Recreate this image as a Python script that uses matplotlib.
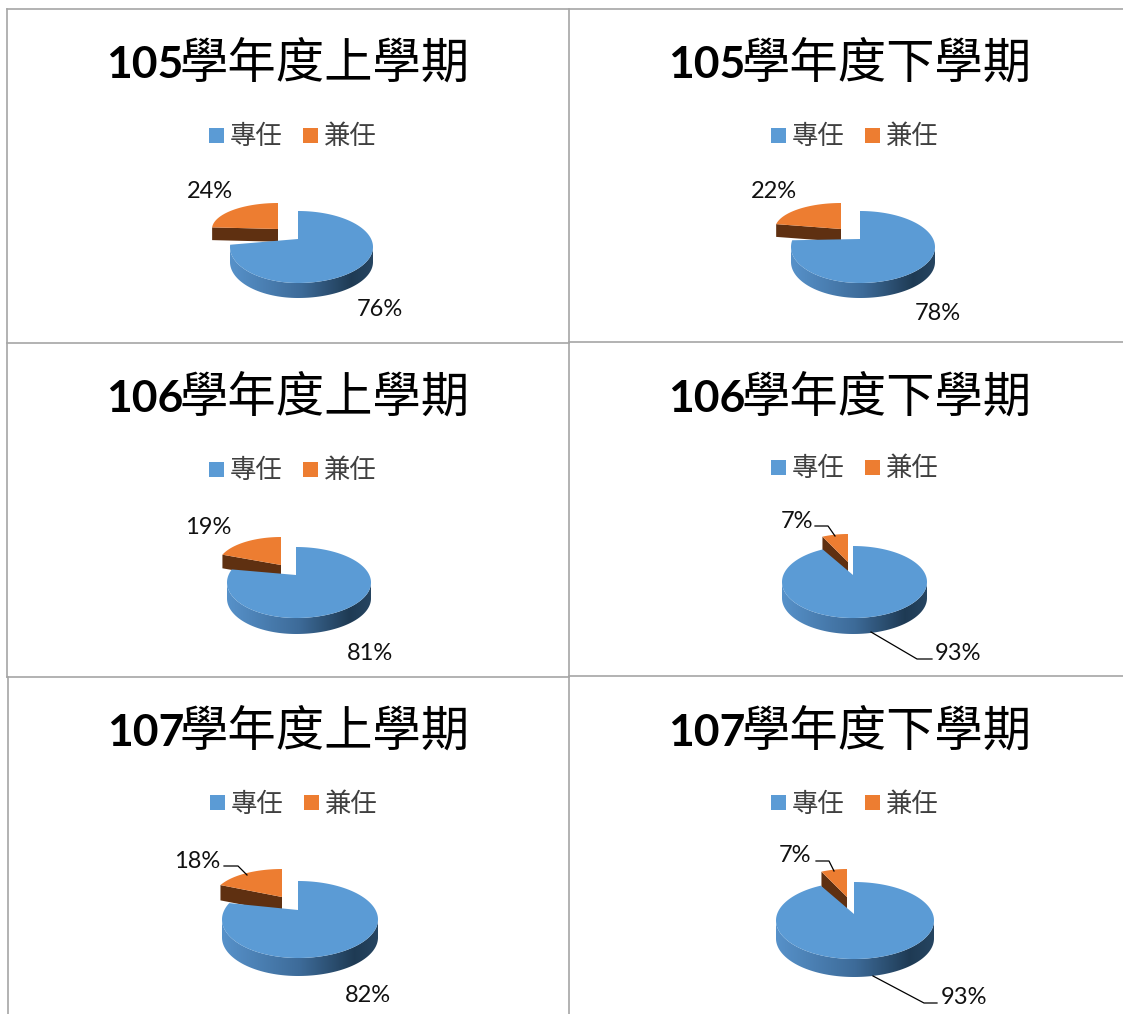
import numpy as np
import matplotlib
matplotlib.use("Agg")
import matplotlib.pyplot as plt
from matplotlib.patches import Rectangle, Polygon

# data
terms = ["105學年度上學期", "105學年度下學期", "106學年度上學期",
         "106學年度下學期", "107學年度上學期", "107學年度下學期"]
series_names = ["專任", "兼任"]
fulltime = [76, 78, 81, 93, 82, 93]
adjunct = [24, 22, 19, 7, 18, 7]

# layout in pixels
title_x = [106, 668, 106, 668, 107, 668]
title_y = [78, 78, 412, 412, 746, 746]
legend_x = [209, 771, 209, 771, 210, 771]
legend_y = [135, 135, 469, 467, 802, 802]
# apex x, apex y, left, right, top, surface bottom, wall bottom
pie_geom = [
    (298, 239, 230, 373, 211, 283, 298),
    (860, 239, 791, 935, 211, 283, 298),
    (296, 575, 227, 371, 547, 618, 634),
    (853, 575, 782, 927, 546, 618, 634),
    (298, 910, 222, 378, 881, 958, 976),
    (854, 914, 776, 934, 882, 959, 977),
]
# apex x, apex y, x radius, top
slice_geom = [
    (278, 229, 66, 203),
    (841, 229, 66, 203),
    (281, 565, 63, 537),
    (848, 562, 60, 534),
    (282, 897, 68, 869),
    (847, 897, 60, 869),
]
blue_label = [(380, 310), (938, 313), (370, 653), (958, 654), (368, 996), (964, 998)]
orange_label = [(210, 192), (774, 192), (208, 527), (797, 522), (197, 862), (795, 856)]
leaders = [
    ([815, 828, 835], [526, 526, 536]),
    ([871, 917, 932], [632, 659, 659]),
    ([224, 238, 247], [866, 866, 875]),
    ([816, 829, 834], [861, 861, 871]),
    ([873, 924, 937], [976, 1003, 1003]),
]

BLUE = "#5b9bd5"
ORANGE = "#ed7d31"
BROWN = "#5f3011"
GRID = "#a6a6a6"
CJK = ["Noto Sans CJK TC", "DejaVu Sans"]

plt.rcParams["font.family"] = ["Lato", "Noto Sans CJK TC", "DejaVu Sans"]

fig = plt.figure(figsize=(11.23, 10.14), dpi=100)
ax = fig.add_axes([0, 0, 1, 1])
ax.axis("off")


def arc(geom, t):
    apx, apy, left, right, top, bottom, wall = geom
    cy = (top + bottom) / 2
    ry = (bottom - top) / 2
    c = np.cos(t)
    x = apx + np.where(c > 0, right - apx, apx - left) * c
    y = cy - ry * np.sin(t)
    return x, y


# left to right shading of the pie's front wall
stops = np.array([[0.34, 0.57, 0.79], [0.24, 0.42, 0.60], [0.12, 0.23, 0.33], [0.15, 0.27, 0.38]])
pos = [0, 0.5, 0.85, 1]
frac = np.linspace(0, 1, 200)
shade = np.stack([np.interp(frac, pos, stops[:, k]) for k in range(3)], axis=1)[np.newaxis, :, :]

for i, term in enumerate(terms):
    geom = pie_geom[i]
    apx, apy, left, right, top, bottom, wall = geom
    depth = wall - bottom
    total = fulltime[i] + adjunct[i]
    edge = np.pi / 2 - 2 * np.pi * fulltime[i] / total

    # orange slice, pulled away from the blue one
    ox0, oy0, orx, otop = slice_geom[i]
    t = np.linspace(edge, -1.5 * np.pi, 80)
    ox = ox0 + orx * np.cos(t)
    oy = oy0 - (oy0 - otop) * np.sin(t)
    d2 = depth * 0.85
    ax.fill([ox0, ox[0], ox[0], ox0], [oy0, oy[0], oy[0] + d2, oy0 + d2], color=BROWN, lw=0, zorder=2)
    ax.fill(np.r_[ox0, ox], np.r_[oy0, oy], color=ORANGE, lw=0, zorder=3)

    # blue front wall
    t = np.linspace(np.pi, 2 * np.pi, 120)
    wx, wy = arc(geom, t)
    outline = np.c_[np.r_[wx, wx[::-1]], np.r_[wy, wy[::-1] + depth]]
    im = ax.imshow(shade, extent=(left, right, wall, top), aspect="auto", zorder=4, interpolation="bilinear")
    im.set_clip_path(Polygon(outline, closed=True, transform=ax.transData))

    # blue top
    t = np.linspace(np.pi / 2, edge, 200)
    bx, by = arc(geom, t)
    ax.fill(np.r_[apx, bx], np.r_[apy, by], color=BLUE, lw=0, zorder=5)

    # title
    ax.text(title_x[i], title_y[i], term[:3], fontsize=32, fontweight="bold", va="baseline", ha="left", color="black")
    ax.text(title_x[i] + 73, title_y[i], term[3:], fontsize=34.8, family=CJK, va="baseline", ha="left", color="black")

    # legend
    lx, ly = legend_x[i], legend_y[i]
    for k, (name, colour) in enumerate(zip(series_names, [BLUE, ORANGE])):
        ax.add_patch(Rectangle((lx + 94 * k, ly - 7.5), 15, 15, color=colour, lw=0, zorder=3))
        ax.text(lx + 94 * k + 21, ly + 2, name, fontsize=19, family=CJK, color="#404040", va="center", ha="left")

    # percent labels
    ax.text(*blue_label[i], f"{fulltime[i]}%", fontsize=17, color="#111111", va="center", ha="center", zorder=7)
    ax.text(*orange_label[i], f"{adjunct[i]}%", fontsize=17, color="#111111", va="center", ha="center", zorder=7)

for xs, ys in leaders:
    ax.plot(xs, ys, color="black", lw=0.9, zorder=6)

# table lines
ax.plot([7, 1123], [9, 9], color=GRID, lw=1.2)
ax.plot([7, 569], [343, 343], color=GRID, lw=1.2)
ax.plot([569, 1123], [342, 342], color=GRID, lw=1.2)
ax.plot([7, 569], [677, 677], color=GRID, lw=1.2)
ax.plot([569, 1123], [676, 676], color=GRID, lw=1.2)
ax.plot([7, 7], [9, 677], color=GRID, lw=1.2)
ax.plot([8, 8], [677, 1014], color=GRID, lw=1.2)
ax.plot([569, 569], [9, 1014], color=GRID, lw=1.2)

ax.set_xlim(0, 1123)
ax.set_ylim(1014, 0)

fig.savefig("out.png", dpi=100)
